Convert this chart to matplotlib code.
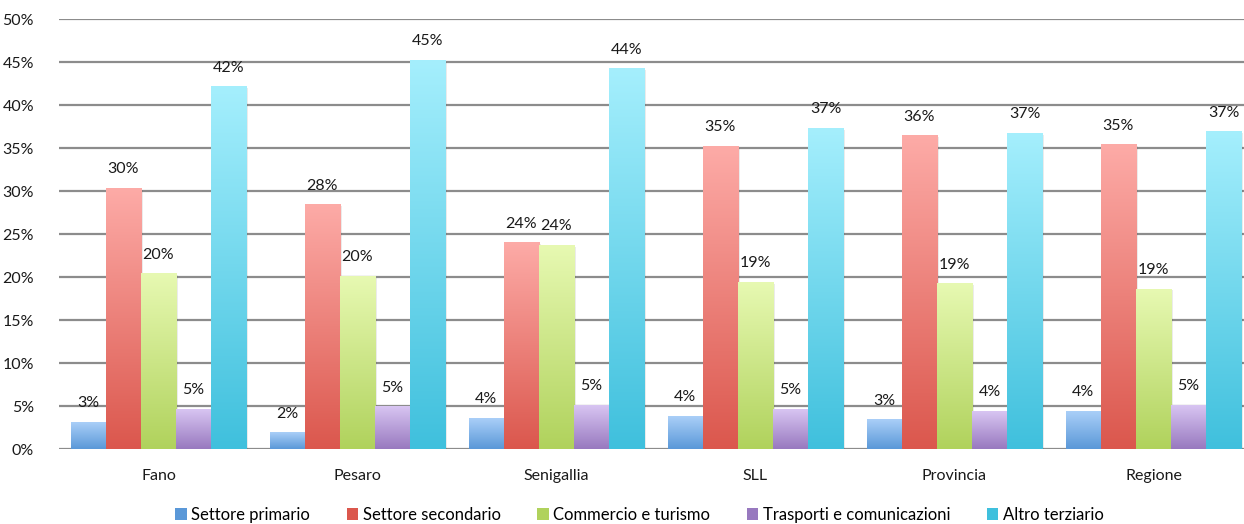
import numpy as np
import matplotlib
matplotlib.use("Agg")
import matplotlib.pyplot as plt
from matplotlib.colors import LinearSegmentedColormap
from matplotlib.patches import Patch
from matplotlib.ticker import FuncFormatter, MultipleLocator

plt.rcParams["font.family"] = ["Lato", "DejaVu Sans"]

categories = ["Fano", "Pesaro", "Senigallia", "SLL", "Provincia", "Regione"]
series_names = ["Settore primario", "Settore secondario", "Commercio e turismo",
                "Trasporti e comunicazioni", "Altro terziario"]
settore_primario = [3.1, 1.9, 3.6, 3.8, 3.4, 4.4]
settore_secondario = [30.3, 28.4, 24.0, 35.2, 36.4, 35.4]
commercio_turismo = [20.4, 20.1, 23.7, 19.4, 19.2, 18.6]
trasporti_comunicazioni = [4.6, 4.9, 5.1, 4.6, 4.4, 5.1]
altro_terziario = [42.1, 45.2, 44.2, 37.3, 36.7, 36.9]
series_values = [settore_primario, settore_secondario, commercio_turismo,
                 trasporti_comunicazioni, altro_terziario]

# (top colour, bottom colour) of each series' vertical gradient
gradients = [("#aacff8", "#5a98d8"),
             ("#fdaba7", "#db574d"),
             ("#e7f9b2", "#b0d25c"),
             ("#d8c5f2", "#9879bf"),
             ("#a5effd", "#3fc0dd")]

fig = plt.figure(figsize=(12.44, 5.24), dpi=100)
ax = fig.add_axes([0.0474, 0.143, 0.9526, 0.8206])

n = len(series_names)
bar_w = 0.176
x = np.arange(len(categories))
grad = np.linspace(1, 0, 256).reshape(-1, 1)

for i, (vals, (top, bottom)) in enumerate(zip(series_values, gradients)):
    cmap = LinearSegmentedColormap.from_list(f"g{i}", [bottom, top])
    offs = (i - (n - 1) / 2) * bar_w
    for xi, v in zip(x, vals):
        left = xi + offs - bar_w / 2
        # soft shadow on the right side of the bar
        ax.add_patch(plt.Rectangle((left + 0.012, 0), bar_w, v - 0.15,
                                   facecolor="#000000", alpha=0.08,
                                   edgecolor="none", zorder=2))
        ax.imshow(grad, cmap=cmap, aspect="auto",
                  extent=(left, left + bar_w, 0, v), zorder=3,
                  interpolation="bicubic")
        ax.text(xi + offs, v + 1.4, f"{round(v):d}%", ha="center",
                va="bottom", fontsize=11.5, color="#1a1a1a", zorder=4)

ax.set_xlim(-0.5, 5.455)
ax.set_ylim(0, 50)
ax.yaxis.set_major_locator(MultipleLocator(5))
ax.yaxis.set_major_formatter(FuncFormatter(lambda v, p: f"{v:.0f}%"))
ax.set_xticks(x)
ax.set_xticklabels(categories)
ax.tick_params(axis="both", length=0, labelsize=11.5, colors="#1a1a1a")
ax.tick_params(axis="x", pad=14)
ax.tick_params(axis="y", pad=18)
for lab in ax.get_yticklabels():
    lab.set_horizontalalignment("right")
ax.grid(axis="y", color="#8c8c8c", linewidth=1.6, zorder=0)
ax.set_axisbelow(True)
for s in ax.spines.values():
    s.set_visible(False)

handles = [Patch(facecolor=c[1], edgecolor="none") for c in gradients]
fig.legend(handles, series_names, loc="center", bbox_to_anchor=(0.514, 0.017),
           ncol=5, frameon=False, fontsize=12, handlelength=0.7,
           handleheight=0.7, handletextpad=0.25, columnspacing=2.2)

fig.savefig("out.png", dpi=100)
